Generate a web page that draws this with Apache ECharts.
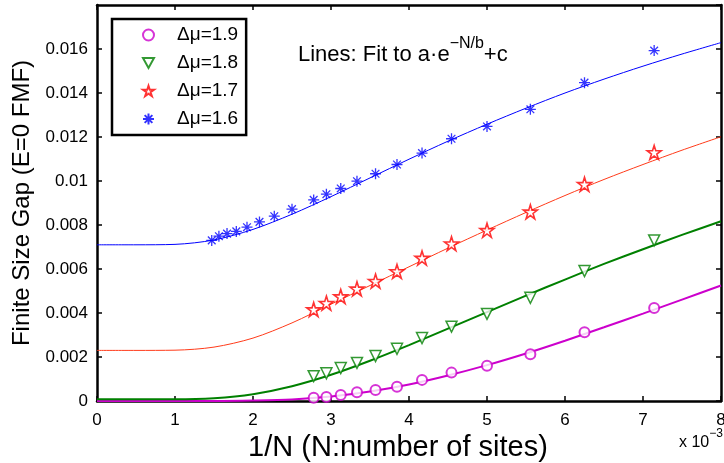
<!DOCTYPE html>
<html>
<head>
<meta charset="utf-8">
<script src="https://cdn.jsdelivr.net/npm/echarts@6/dist/echarts.min.js"></script>
<style>
  html, body { margin: 0; padding: 0; background: #fff; }
  #chart { width: 724px; height: 463px; }
</style>
</head>
<body>
<div id="chart"></div>
<script>
// x = 1/N (units of 1e-3), gap values in units of 1e-3
var invNAll = [1.471, 1.563, 1.667, 1.786, 1.923, 2.083, 2.273, 2.5, 2.778, 2.941,
               3.125, 3.333, 3.571, 3.846, 4.167, 4.545, 5.0, 5.556, 6.25, 7.143];
var invN = [2.778, 2.941, 3.125, 3.333, 3.571, 3.846, 4.167, 4.545, 5.0, 5.556, 6.25, 7.143];

var gap19 = [0.15, 0.18, 0.27, 0.40, 0.50, 0.65, 0.96, 1.29, 1.60, 2.13, 3.12, 4.23];
var gap18 = [1.13, 1.26, 1.50, 1.73, 2.04, 2.37, 2.86, 3.38, 3.96, 4.69, 5.91, 7.30];
var gap17 = [4.16, 4.45, 4.75, 5.10, 5.45, 5.89, 6.50, 7.15, 7.76, 8.60, 9.85, 11.30];
var gap16 = [7.30, 7.49, 7.61, 7.71, 7.90, 8.14, 8.40, 8.72, 9.14, 9.40,
             9.66, 9.99, 10.33, 10.75, 11.27, 11.92, 12.48, 13.26, 14.47, 15.93];

// fitted curves
var fitX = [0, 0.5, 1, 1.5, 2, 2.5, 3, 3.5, 4, 4.5, 5, 5.5, 6, 6.5, 7, 7.5, 8];
var fit19 = [0, 0, 0, 0, 0.02, 0.07, 0.20, 0.43, 0.75, 1.16, 1.63, 2.16, 2.74, 3.35, 3.97, 4.61, 5.25];
var fit18 = [0.08, 0.08, 0.08, 0.13, 0.31, 0.67, 1.19, 1.83, 2.54, 3.29, 4.04, 4.79, 5.52, 6.23, 6.90, 7.55, 8.17];
var fit17 = [2.30, 2.30, 2.31, 2.45, 2.86, 3.55, 4.40, 5.25, 6.10, 6.95, 7.77, 8.57, 9.34, 10.07, 10.75, 11.40, 12.01];
var fit16 = [7.10, 7.10, 7.12, 7.32, 7.80, 8.49, 9.29, 10.14, 10.99, 11.81, 12.58, 13.31, 14.00, 14.63, 15.22, 15.77, 16.29];

var names = ['\u0394\u03bc=1.9', '\u0394\u03bc=1.8', '\u0394\u03bc=1.7', '\u0394\u03bc=1.6'];
var xTicks = [0, 1, 2, 3, 4, 5, 6, 7, 8];

var FONT = 'Liberation Sans';
var starPath = 'path://M100,0L122.45,69.1L195.1,69.1L136.33,111.8L158.78,180.9L100,138.2L41.22,180.9L63.67,111.8L4.9,69.1L77.55,69.1Z';
var triPath = 'path://M0,0L100,0L50,90Z';
var astPath = 'path://M5,0L5,10M0,5L10,5M1.5,1.5L8.5,8.5M1.5,8.5L8.5,1.5';

function zip(xs, ys) {
  return ys.map(function (y, i) { return [xs[i], y]; });
}

function textWidth(str, size) {
  var ctx = document.createElement('canvas').getContext('2d');
  ctx.font = size + 'px "' + FONT + '"';
  return ctx.measureText(str).width;
}

var axisCommon = {
  type: 'value',
  axisLine: { show: true, onZero: false, lineStyle: { color: '#000', width: 2.5 } },
  axisTick: { show: true, inside: true, length: 5, lineStyle: { color: '#000', width: 1.5 } },
  splitLine: { show: false }
};

function lineSeries(name, ys, color, width) {
  return {
    name: name, type: 'line', data: zip(fitX, ys), showSymbol: false,
    smooth: 0.3, silent: true, z: 2,
    lineStyle: { color: color, width: width }
  };
}

var mainText = 'Lines: Fit to a\u00b7e';
var supText = '\u2212N/b';
var w1 = textWidth(mainText, 22);
var w2 = textWidth(supText, 16);
var annX = 298;
var expX = 679;

var option = {
  backgroundColor: '#fff',
  animation: false,
  textStyle: { fontFamily: FONT },
  grid: { left: 97, right: 3, top: 5, bottom: 62, containLabel: false, outerBoundsMode: 'none' },
  xAxis: [
    Object.assign({}, axisCommon, {
      position: 'bottom', min: 0, max: 8, interval: 1,
      axisLabel: { color: '#000', fontSize: 17, margin: 11, fontFamily: FONT,
        formatter: function (v) { return xTicks.indexOf(v) >= 0 ? String(v) : ''; } },
      name: '1/N (N:number of sites)', nameLocation: 'middle', nameGap: 26,
      nameTextStyle: { color: '#000', fontSize: 29, fontFamily: FONT, padding: [0, 22, 0, 0] }
    }),
    Object.assign({}, axisCommon, {
      position: 'top', min: 0, max: 8, interval: 1, axisLabel: { show: false }
    })
  ],
  yAxis: [
    Object.assign({}, axisCommon, {
      position: 'left', min: 0, max: 18, interval: 2,
      axisLabel: { color: '#000', fontSize: 17, margin: 9, fontFamily: FONT, showMaxLabel: false,
        formatter: function (v) { return v === 0 ? '0' : String(+(v / 1000).toFixed(3)); } },
      name: 'Finite Size Gap (E=0 FMF)', nameLocation: 'middle', nameGap: 59,
      nameTextStyle: { color: '#000', fontSize: 24, fontFamily: FONT }
    }),
    Object.assign({}, axisCommon, {
      position: 'right', min: 0, max: 18, interval: 2, axisLabel: { show: false }
    })
  ],
  legend: {
    orient: 'vertical', left: 112, top: 19, z: 6,
    padding: [6, 8, 6, 30],
    backgroundColor: '#fff', borderColor: '#000', borderWidth: 2.5,
    itemWidth: 11, itemHeight: 11, itemGap: 8,
    selectedMode: false,
    textStyle: { color: '#000', fontSize: 19, lineHeight: 20, fontFamily: FONT, padding: [0, 0, 0, 18] },
    data: names
  },
  graphic: [
    { type: 'text', x: annX, y: 55, z: 10,
      style: { text: mainText, font: '22px "' + FONT + '"', fill: '#000', verticalAlign: 'middle' } },
    { type: 'text', x: annX + w1, y: 44, z: 10,
      style: { text: supText, font: '16px "' + FONT + '"', fill: '#000', verticalAlign: 'middle' } },
    { type: 'text', x: annX + w1 + w2, y: 55, z: 10,
      style: { text: '+c', font: '22px "' + FONT + '"', fill: '#000', verticalAlign: 'middle' } },
    { type: 'text', x: expX, y: 443, z: 10,
      style: { text: 'x 10', font: '16px "' + FONT + '"', fill: '#000', verticalAlign: 'middle' } },
    { type: 'text', x: expX + textWidth('x 10', 16), y: 434, z: 10,
      style: { text: '\u22123', font: '12px "' + FONT + '"', fill: '#000', verticalAlign: 'middle' } }
  ],
  series: [
    lineSeries('fit19', fit19, '#cc00cc', 2),
    lineSeries('fit18', fit18, '#008000', 2),
    lineSeries('fit17', fit17, '#ff3b1a', 1),
    lineSeries('fit16', fit16, '#0000ff', 1),
    {
      name: names[0], type: 'scatter', data: zip(invN, gap19), z: 3,
      symbol: 'emptyCircle', symbolSize: 10,
      itemStyle: { color: '#cc00cc', borderColor: '#cc00cc', borderWidth: 1.5 }
    },
    {
      name: names[1], type: 'scatter', data: zip(invN, gap18), z: 3,
      symbol: triPath, symbolSize: 11,
      itemStyle: { color: '#fff', borderColor: '#008000', borderWidth: 1.5 }
    },
    {
      name: names[2], type: 'scatter', data: zip(invN, gap17), z: 3,
      symbol: starPath, symbolSize: 14,
      itemStyle: { color: '#fff', borderColor: '#ff0000', borderWidth: 1.6 }
    },
    {
      name: names[3], type: 'scatter', data: zip(invNAll, gap16), z: 3,
      symbol: astPath, symbolSize: 11,
      itemStyle: { color: 'rgba(0,0,0,0)', borderColor: '#0000ff', borderWidth: 1.3 }
    }
  ]
};

var chart = echarts.init(document.getElementById('chart'));
chart.setOption(option);
</script>
</body>
</html>
